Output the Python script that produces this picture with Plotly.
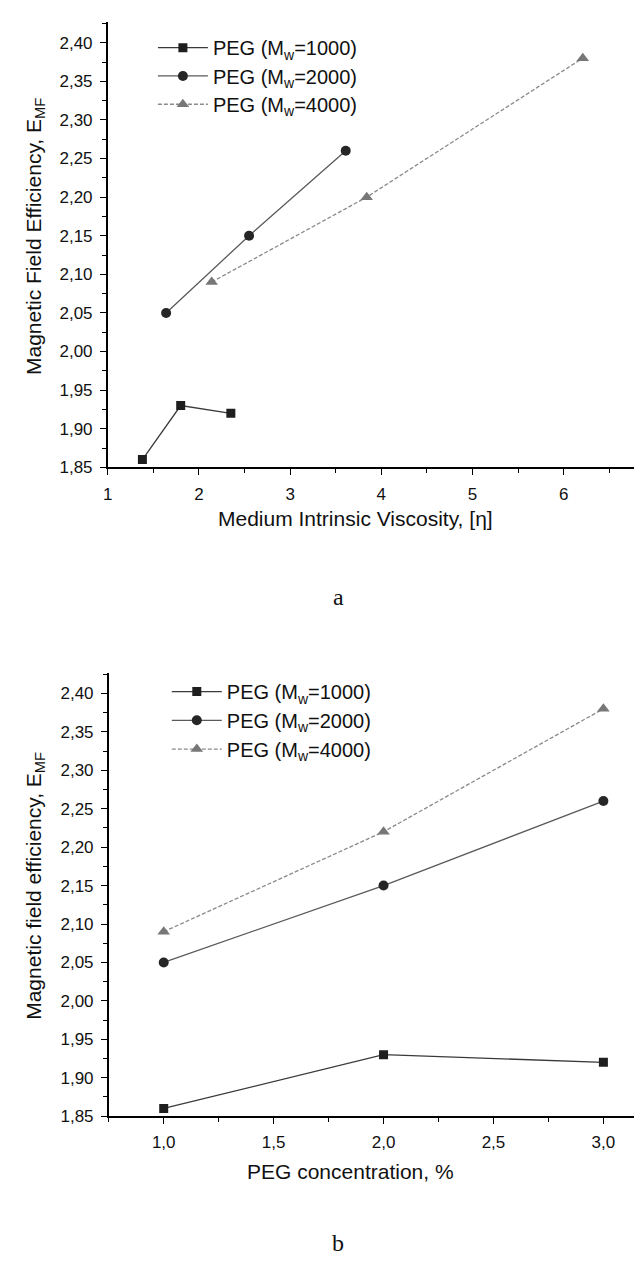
import plotly.graph_objects as go

# ---- data (panel a) ----
names = ["PEG (M<sub>w</sub>=1000)", "PEG (M<sub>w</sub>=2000)", "PEG (M<sub>w</sub>=4000)"]
visc_1000 = [1.38, 1.80, 2.35]
eff_1000 = [1.86, 1.93, 1.92]
visc_2000 = [1.64, 2.55, 3.61]
eff_2000 = [2.05, 2.15, 2.26]
visc_4000 = [2.14, 3.84, 6.21]
eff_4000 = [2.09, 2.20, 2.38]

# ---- data (panel b) ----
conc = [1.0, 2.0, 3.0]
conc_1000 = [1.86, 1.93, 1.92]
conc_2000 = [2.05, 2.15, 2.26]
conc_4000 = [2.09, 2.22, 2.38]

W, H = 642, 1262

styles = [
    dict(line=dict(color="#3a3a3a", width=1.3), marker=dict(symbol="square", size=9, color="#1e1e1e")),
    dict(line=dict(color="#5a5a5a", width=1.3), marker=dict(symbol="circle", size=10, color="#262626")),
    dict(line=dict(color="#8a8a8a", width=1.3, dash="4px,2px"), marker=dict(symbol="triangle-up", size=11, color="#777777")),
]

def py(px):
    return 1 - px / H

def pxx(px):
    return px / W

fig = go.Figure()
top_sets = [(visc_1000, eff_1000), (visc_2000, eff_2000), (visc_4000, eff_4000)]
bot_sets = [(conc, conc_1000), (conc, conc_2000), (conc, conc_4000)]
top_rows = [40, 68.5, 97]
bot_rows = [689, 718, 747]
legend_font = dict(family="Liberation Sans, Arial", size=20, color="#111")
legends = {}
for i, (xs, ys) in enumerate(top_sets):
    key = "legend" if i == 0 else f"legend{i + 1}"
    fig.add_trace(go.Scatter(x=xs, y=ys, mode="lines+markers", name=names[i],
                             xaxis="x", yaxis="y", legend=key, **styles[i]))
    legends[key] = dict(x=pxx(141), y=py(top_rows[i]), xanchor="left", yanchor="middle",
                        bgcolor="rgba(0,0,0,0)", font=legend_font, itemwidth=50)
for i, (xs, ys) in enumerate(bot_sets):
    key = f"legend{i + 4}"
    fig.add_trace(go.Scatter(x=xs, y=ys, mode="lines+markers", name=names[i],
                             xaxis="x2", yaxis="y2", legend=key, **styles[i]))
    legends[key] = dict(x=pxx(155), y=py(bot_rows[i]), xanchor="left", yanchor="middle",
                        bgcolor="rgba(0,0,0,0)", font=legend_font, itemwidth=50)

axis_common = dict(showline=True, linecolor="black", linewidth=1.6, ticks="outside",
                   ticklen=6, tickwidth=1.4, tickcolor="black", showgrid=False, zeroline=False,
                   tickfont=dict(family="Liberation Sans, Arial", size=17, color="#111"),
                   ticklabelstandoff=4)
minor_common = dict(ticks="outside", ticklen=4, tickcolor="black", tickwidth=1.2)

fig.update_layout(
    width=W, height=H, margin=dict(l=0, r=0, t=0, b=0),
    paper_bgcolor="white", plot_bgcolor="white",
    separators=", ",
    showlegend=True,
    xaxis=dict(domain=[pxx(95.5), 1], range=[1, 6.947], dtick=1, tick0=1,
               minor=dict(dtick=0.5, **minor_common), anchor="y", **axis_common),
    yaxis=dict(domain=[py(463), py(14)], range=[1.85, 2.427], dtick=0.05, tick0=1.85,
               tickformat=".2f", minor=dict(dtick=0.025, **minor_common), anchor="x", **axis_common),
    xaxis2=dict(domain=[pxx(96.5), 1], range=[0.75, 3.212], dtick=0.5, tick0=1.0,
                tickformat=".1f", minor=dict(dtick=0.25, **minor_common), anchor="y2", **axis_common),
    yaxis2=dict(domain=[py(1117), py(670)], range=[1.85, 2.427], dtick=0.05, tick0=1.85,
                tickformat=".2f", minor=dict(dtick=0.025, **minor_common), anchor="x2", **axis_common),
    **legends,
)

def tfont(s):
    return dict(family="Liberation Sans, Arial", size=s, color="#111")

annots = [
    dict(text="Medium Intrinsic Viscosity, [η]", x=pxx(345), y=py(515), font=tfont(21)),
    dict(text="PEG concentration, %", x=pxx(340), y=py(1173), font=tfont(21)),
    dict(text="Magnetic Field Efficiency, E<sub>MF</sub>", x=pxx(22), y=py(230), textangle=-90, font=tfont(21)),
    dict(text="Magnetic field efficiency, E<sub>MF</sub>", x=pxx(22), y=py(885), textangle=-90, font=tfont(21)),
]
for a in annots:
    fig.add_annotation(xref="paper", yref="paper", showarrow=False,
                       xanchor="center", yanchor="middle", **a)
for t, xc, yc in [("a", 328, 594), ("b", 328, 1245)]:
    fig.add_annotation(text=t, xref="paper", yref="paper", x=pxx(xc), y=py(yc), showarrow=False,
                       xanchor="center", yanchor="middle",
                       font=dict(family="Liberation Serif, Times New Roman", size=24, color="#111"))

fig.write_html("out.html")
